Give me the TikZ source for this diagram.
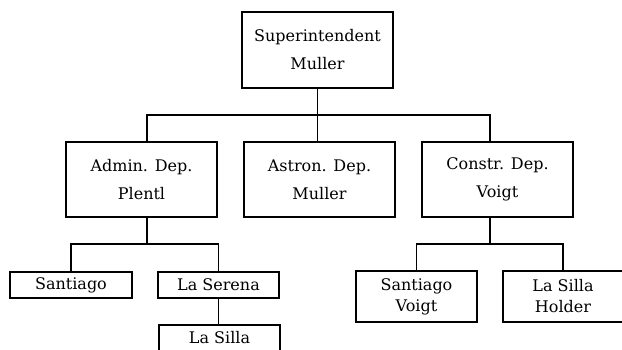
\documentclass[tikz,border=0pt]{standalone}
\usepackage{fontspec}
\setmainfont{DejaVu Serif}
\begin{document}
\begin{tikzpicture}[x=1pt,y=-1pt,line width=1.2pt,
  bigbox/.style={draw,inner sep=0pt,minimum width=151pt,minimum height=75pt,align=center,font=\fontsize{16}{28}\selectfont},
  smallbox/.style={draw,inner sep=0pt,minimum width=121pt,minimum height=26pt,align=center,font=\fontsize{16}{21}\selectfont}]
\useasboundingbox (0,0) rectangle (622,349);
\node[bigbox,minimum height=76pt] (sup) at (317.5,50) {Superintendent\\Muller};
\node[bigbox] (admin) at (141.5,179.5) {Admin. Dep.\\Plentl};
\node[bigbox] (astron) at (319.5,179.5) {Astron. Dep.\\Muller};
\node[bigbox] (constr) at (497.5,179.5) {Constr. Dep.\\Voigt};
\node[smallbox,minimum width=122pt] (santiago) at (71,285) {Santiago};
\node[smallbox] (serena) at (218.5,285) {La Serena};
\node[smallbox] (silla) at (219.5,338) {La Silla};
\node[smallbox,minimum height=51pt] (svoigt) at (416.5,296.5) {Santiago\\Voigt};
\node[smallbox,minimum height=51pt,minimum width=120pt] (holder) at (563,296.5) {La Silla\\Holder};
\coordinate (j1) at (317.5,115);
\coordinate (j2) at (147,244);
\coordinate (j3) at (490,244);
% top level
\draw (sup.south) -- (sup.south |- astron.north);
\draw ([xshift=5.5pt]admin.north) |- (j1) -| ([xshift=-7.5pt]constr.north);
% admin dep.
\draw (j2) -- (j2 |- admin.south);
\draw (santiago) |- (j2) -| (serena);
\draw (serena.south) -- (serena.south |- silla.north);
% constr. dep.
\draw (j3) -- (j3 |- constr.south);
\draw (svoigt) |- (j3) -| (holder);
\end{tikzpicture}
\end{document}
